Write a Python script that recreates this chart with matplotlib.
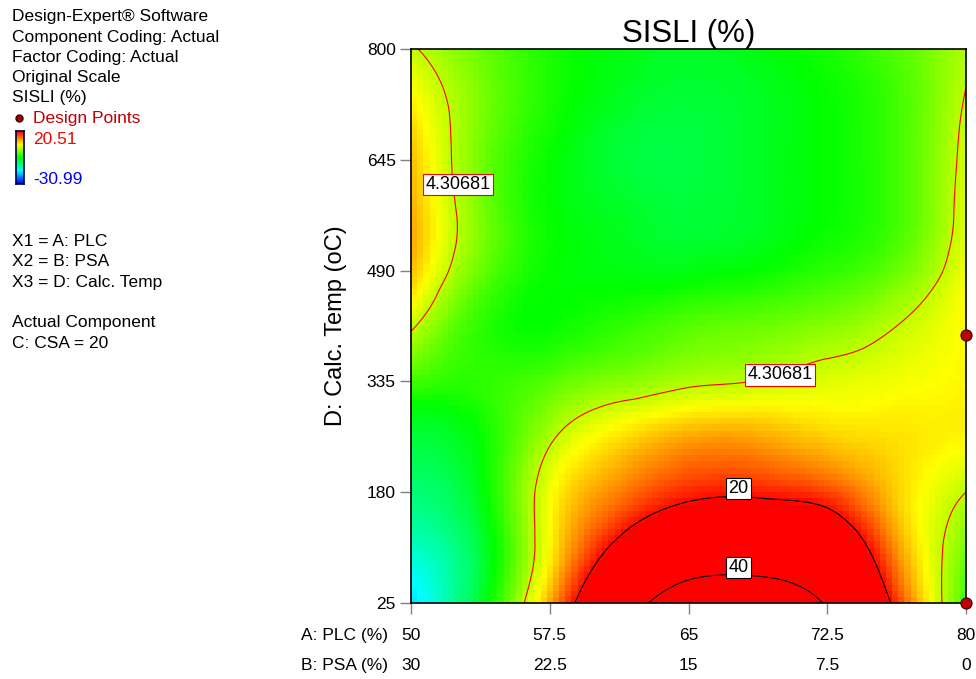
import numpy as np
import matplotlib
matplotlib.use("Agg")
import matplotlib.pyplot as plt
import matplotlib.tri as mtri
import matplotlib.transforms as mtransforms
from matplotlib.colors import LinearSegmentedColormap

plt.rcParams['font.family'] = ['Liberation Sans', 'DejaVu Sans']

# factor levels of the grid
plc = [50, 53.75, 57.5, 61.25, 65, 68.75, 72.5, 76.25, 80]
temp = [25, 102.5, 180, 257.5, 335, 412.5, 490, 567.5, 645, 722.5, 800]
# SISLI (%) estimated at each grid node, rows = temp (bottom -> top), cols = plc
sisli = [
    [-20, -7, 12, 33, 46, 47, 39, 18, -2],
    [-15, -8, 8, 22, 31, 32, 28, 13, 1],
    [-11, -6, 7, 14, 18.5, 19, 17, 10, 4.3],
    [-8, -5, 3.5, 9, 12, 12, 10, 9, 8],
    [-2, -3, -1, 1.5, 3.5, 4.5, 6, 7, 8],
    [5, -3, -5, -3, -1, 0, 1.5, 4.3, 8],
    [11, 0, -5, -6, -6, -5, -3, 0, 7],
    [12, 1, -5, -7, -8, -7, -5, -2, 6],
    [11, 0.5, -5, -8, -8.5, -7, -5, -2, 5.5],
    [8.5, 1, -4, -7, -8, -7, -5, -2, 4.7],
    [4.8, 0, -4, -6, -7, -6, -4, -1, 3.5],
]
psa_ticks = [30, 22.5, 15, 7.5, 0]
plc_ticks = [50, 57.5, 65, 72.5, 80]
temp_ticks = [25, 180, 335, 490, 645, 800]
design_plc = [80, 80]
design_temp = [400, 25]
contour_levels = [4.30681, 20, 40]
zmin, zmax = -30.99, 20.51

cmap = LinearSegmentedColormap.from_list(
    'de', ['#0000ff', '#00ffff', '#00ff00', '#ffff00', '#ff0000'])

# smooth surface through the read values (library cubic interpolation)
pa = np.array(plc); pt = np.array(temp); Z = np.array(sisli, dtype=float)
U, V = np.meshgrid((pa - 50) / 30, (pt - 25) / 775)
tri = mtri.Triangulation(U.ravel(), V.ravel())
interp = mtri.CubicTriInterpolator(tri, Z.ravel(), kind='min_E')

n_col = 90
uc = np.linspace(0, 1, n_col + 1)
ucen = np.clip((uc[:-1] + uc[1:]) / 2, 1e-9, 1 - 1e-9)
UU, VV = np.meshgrid(ucen, ucen)
Zc = np.ma.filled(interp(UU, VV), np.nan)

n_fine = 300
uf = np.clip(np.linspace(0, 1, n_fine), 1e-9, 1 - 1e-9)
UF, VF = np.meshgrid(uf, uf)
ZF = np.ma.filled(interp(UF, VF), np.nan)

fig = plt.figure(figsize=(9.76, 6.79), dpi=100)
ax = fig.add_axes([411 / 976, 76 / 679, 555 / 976, 554 / 679])

ax.pcolormesh(50 + uc * 30, 25 + uc * 775, Zc, cmap=cmap, vmin=zmin, vmax=zmax,
              shading='flat')
ax.contour(50 + uf * 30, 25 + uf * 775, ZF, levels=[contour_levels[0]],
           colors='red', linewidths=0.8)
ax.contour(50 + uf * 30, 25 + uf * 775, ZF, levels=contour_levels[1:],
           colors='black', linewidths=0.8)

# contour labels
lab_kw = dict(fontsize=13, ha='center', va='center', zorder=5)
ax.text(52.54, 610, '4.30681', bbox=dict(fc='white', ec='red', lw=0.8, pad=1.5), **lab_kw)
ax.text(69.95, 344, '4.30681', bbox=dict(fc='white', ec='red', lw=0.8, pad=1.5), **lab_kw)
ax.text(67.7, 185, '20', bbox=dict(fc='white', ec='black', lw=0.8, pad=1.5), **lab_kw)
ax.text(67.7, 75, '40', bbox=dict(fc='white', ec='black', lw=0.8, pad=1.5), **lab_kw)

ax.plot(design_plc, design_temp, 'o', ms=8, mfc='#c00000', mec='#3a0000', mew=0.8,
        clip_on=False, zorder=6)

ax.set_xlim(50, 80)
ax.set_ylim(25, 800)
ax.set_xticks(plc_ticks)
ax.set_xticklabels(['50', '57.5', '65', '72.5', '80'])
ax.set_yticks(temp_ticks)
ax.tick_params(axis='both', direction='out', length=8, width=1, color='#808080',
               labelsize=12.5)
ax.tick_params(axis='x', pad=10)
ax.tick_params(axis='y', pad=3)
for s in ax.spines.values():
    s.set_linewidth(1.2)

ax.set_title('SISLI (%)', fontsize=22.5, pad=4)
ax.set_ylabel('D: Calc. Temp (oC)', fontsize=17, labelpad=14)

trans = mtransforms.blended_transform_factory(ax.transData, ax.transAxes)
for a, b in zip(plc_ticks, psa_ticks):
    ax.text(a, -0.112, f'{b:g}', transform=trans, ha='center', va='center', fontsize=12.5)
ax.text(-0.041, -0.0578, 'A: PLC (%)', transform=ax.transAxes, ha='right', va='center', fontsize=12.5)
ax.text(-0.041, -0.112, 'B: PSA (%)', transform=ax.transAxes, ha='right', va='center', fontsize=12.5)

# side notes
def fy(py):
    return 1 - py / 679

info = ['Design-Expert\u00ae Software', 'Component Coding: Actual',
        'Factor Coding: Actual', 'Original Scale', 'SISLI (%)']
for i, line in enumerate(info):
    fig.text(12 / 976, fy(17 + 20.2 * i), line, fontsize=12.5, va='center')
fig.text(33 / 976, fy(118), 'Design Points', fontsize=12.5, va='center', color='#c00000')
fig.lines.append(plt.Line2D([19 / 976], [fy(118)], marker='o', ms=5, mfc='#a00000',
                            mec='#300000', transform=fig.transFigure))
cax = fig.add_axes([16 / 976, fy(184), 8 / 976, 53 / 679])
cax.imshow(np.linspace(1, 0, 64)[:, None], aspect='auto', cmap=cmap)
cax.set_xticks([]); cax.set_yticks([])
for s in cax.spines.values():
    s.set_color('#000040'); s.set_linewidth(1.2)
fig.text(33 / 976, fy(140), '20.51', fontsize=12.5, va='center', color='red')
fig.text(33 / 976, fy(180), '-30.99', fontsize=12.5, va='center', color='blue')

notes = [('X1 = A: PLC', 241), ('X2 = B: PSA', 261), ('X3 = D: Calc. Temp', 282),
         ('Actual Component', 323), ('C: CSA = 20', 344)]
for line, py in notes:
    fig.text(12 / 976, fy(py), line, fontsize=12.5, va='center')

fig.savefig('out.png', dpi=100)
